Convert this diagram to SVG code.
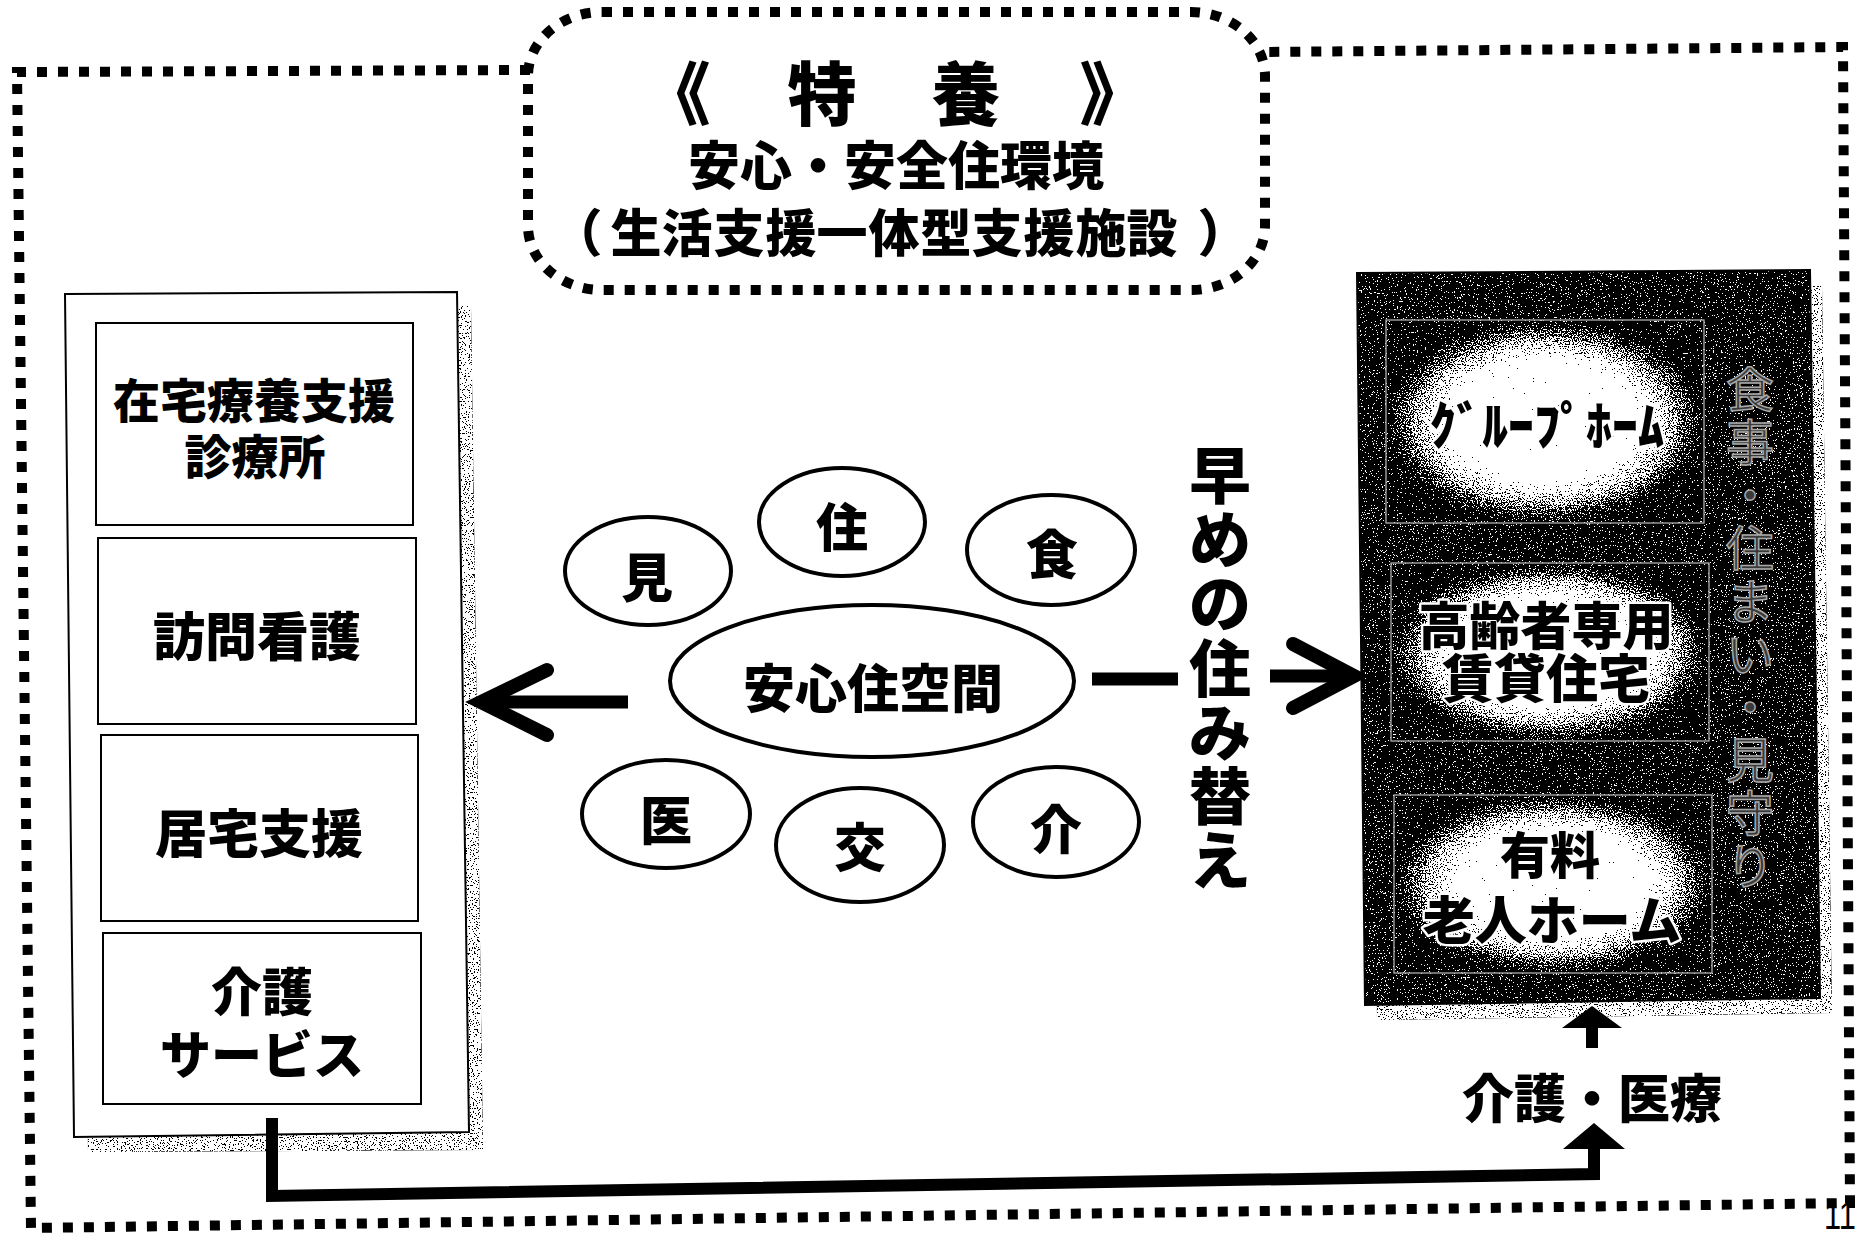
<svg xmlns="http://www.w3.org/2000/svg" width="1865" height="1240" viewBox="0 0 1865 1240">
<style>
.t{font-family:"Noto Sans CJK JP","Noto Sans CJK SC",sans-serif;font-weight:900;fill:#000;text-anchor:middle}
.dot{fill:none;stroke:#000;stroke-width:10;stroke-dasharray:10 11}
.box{fill:#fff;stroke:#000;stroke-width:2}
.ell{fill:#fff;stroke:#000;stroke-width:4}
.ln{fill:none;stroke:#000;stroke-width:13}
.halo{stroke:#fff;stroke-width:5;paint-order:stroke;stroke-linejoin:round}
.pan{fill:url(#glow)}
.pb{fill:none;stroke:#b0b0b0;stroke-width:1.3}
.shd{fill:#b4b4b4}
</style>
<defs>
<filter id="dither" x="0" y="0" width="1" height="1" color-interpolation-filters="sRGB">
<feTurbulence type="fractalNoise" baseFrequency="0.75" numOctaves="2" seed="7" result="t"/>
<feColorMatrix in="t" type="matrix" values="1 0 0 0 0 1 0 0 0 0 1 0 0 0 0 0 0 0 0 1" result="g"/>
<feComposite in="SourceGraphic" in2="g" operator="arithmetic" k1="0" k2="1" k3="1.6" k4="-0.8" result="s"/>
<feComponentTransfer in="s" result="d">
<feFuncR type="discrete" tableValues="0 1"/>
<feFuncG type="discrete" tableValues="0 1"/>
<feFuncB type="discrete" tableValues="0 1"/>
</feComponentTransfer>
<feComposite in="d" in2="SourceGraphic" operator="in"/>
</filter>
<radialGradient id="glow" cx="0.5" cy="0.5" r="0.5">
<stop offset="0" stop-color="#fff"/>
<stop offset="0.55" stop-color="#fff"/>
<stop offset="0.82" stop-color="#8a8a8a"/>
<stop offset="1" stop-color="#333"/>
</radialGradient>
</defs>
<rect width="1865" height="1240" fill="#fff"/>

<g id="frame">
<path class="dot" d="M 530 70 L 17 72 L 31 1228 L 1850 1203 L 1843 47 L 1262 52"/>
</g>

<g id="title">
<rect class="dot" x="528" y="12" width="737" height="278" rx="74" ry="64" fill="#fff"/>
<text class="t" x="676 749 822 894 966 1034 1114" y="120" font-size="69">《　特　養　》</text>
<text class="t" x="896" y="185" font-size="52">安心・安全住環境</text>
<text class="t" x="577 636 687 739 791 842 894 946 997 1049 1101 1152 1223" y="252" font-size="51">（生活支援一体型支援施設）</text>
</g>

<g id="left-services">
<polygon class="shd" filter="url(#dither)" points="79,308 471,306 483,1150 88,1152"/>
<polygon class="box" points="65,294 457,292 469,1132 74,1137"/>
<g id="clinic">
<rect class="box" x="96" y="323" width="317" height="202"/>
<text class="t" x="254" y="418" font-size="47">在宅療養支援</text>
<text class="t" x="255" y="474" font-size="47">診療所</text>
</g>
<g id="nursing">
<rect class="box" x="98" y="538" width="318" height="186"/>
<text class="t" x="257" y="656" font-size="52">訪問看護</text>
</g>
<g id="home-support">
<rect class="box" x="101" y="735" width="317" height="186"/>
<text class="t" x="259" y="853" font-size="52">居宅支援</text>
</g>
<g id="care-service">
<rect class="box" x="103" y="933" width="318" height="171"/>
<text class="t" x="262" y="1011" font-size="51">介護</text>
<text class="t" x="262" y="1074" font-size="51">サービス</text>
</g>
</g>

<g id="center">
<g id="e-mi"><ellipse class="ell" cx="648" cy="571" rx="83" ry="54"/><text class="t" x="647" y="597" font-size="52">見</text></g>
<g id="e-ju"><ellipse class="ell" cx="842" cy="522" rx="83" ry="54"/><text class="t" x="842" y="547" font-size="52">住</text></g>
<g id="e-shoku"><ellipse class="ell" cx="1051" cy="550" rx="84" ry="55"/><text class="t" x="1052" y="574" font-size="52">食</text></g>
<g id="e-main"><ellipse class="ell" cx="872" cy="681" rx="202" ry="76"/><text class="t" x="873" y="708" font-size="52">安心住空間</text></g>
<g id="e-i"><ellipse class="ell" cx="666" cy="814" rx="84" ry="54"/><text class="t" x="666" y="840" font-size="52">医</text></g>
<g id="e-ko"><ellipse class="ell" cx="860" cy="845" rx="84" ry="57"/><text class="t" x="860" y="867" font-size="52">交</text></g>
<g id="e-kai"><ellipse class="ell" cx="1056" cy="822" rx="83" ry="55"/><text class="t" x="1056" y="849" font-size="52">介</text></g>
</g>

<g id="move-label">
<text class="t" font-size="62" x="1220 1220 1220 1220 1220 1220 1220" y="499 563 627 692 756 820 884">早めの住み替え</text>
</g>

<g id="housing">
<polygon class="shd" filter="url(#dither)" points="1369,288 1822,285 1832,1013 1377,1020"/>
<g filter="url(#dither)">
<polygon points="1357,273 1810,270 1820,998 1365,1005" fill="#3a3a3a"/>
<rect class="pan" x="1386" y="320" width="318" height="203"/>
<rect class="pan" x="1391" y="563" width="318" height="178"/>
<rect class="pan" x="1394" y="795" width="318" height="178"/>
</g>
<polygon points="1357,273 1810,270 1820,998 1365,1005" fill="none" stroke="#000" stroke-width="2"/>
<rect class="pb" x="1386" y="320" width="318" height="203"/>
<rect class="pb" x="1391" y="563" width="318" height="178"/>
<rect class="pb" x="1394" y="795" width="318" height="178"/>
<g id="grouphome"><text class="t halo" x="1547" y="445" font-size="52">ｸﾞﾙｰﾌﾟﾎｰﾑ</text></g>
<g id="elderly-rental"><text class="t halo" x="1546" y="645" font-size="51">高齢者専用</text><text class="t halo" x="1546" y="698" font-size="52">賃貸住宅</text></g>
<g id="paid-home"><text class="t halo" x="1550" y="874" font-size="50">有料</text><text class="t halo" x="1552" y="940" font-size="52">老人ホーム</text></g>
<text x="1750 1750 1750 1750 1750 1750 1750 1750 1750 1750" y="407 460 513 566 619 672 725 778 831 884" font-size="48" style="font-family:'Noto Sans CJK JP',sans-serif;font-weight:400;text-anchor:middle;fill:#3a3a3a;stroke:#a8a8a8;stroke-width:1.5">食事・住まい・見守り</text>
</g>

<g id="care-medical">
<text class="t" x="1592" y="1118" font-size="52">介護・医療</text>
</g>

<g id="connectors">
<path class="ln" d="M 628 702 L 488 702"/>
<path d="M 547 670 L 481 702 L 547 735" fill="none" stroke="#000" stroke-width="14" stroke-linecap="round" stroke-linejoin="miter"/>
<path class="ln" stroke-width="14" d="M 1092 679 L 1178 679"/>
<path class="ln" d="M 1270 676 L 1345 676"/>
<path d="M 1293 644 L 1354 676 L 1293 708" fill="none" stroke="#000" stroke-width="14" stroke-linecap="round" stroke-linejoin="miter"/>
<path d="M 272 1118 L 272 1196 L 1594 1174 L 1594 1146" fill="none" stroke="#000" stroke-width="12" stroke-linejoin="miter"/>
<polygon points="1594,1123 1563,1149 1625,1149" fill="#000"/>
<path d="M 1592 1048 L 1592 1025" fill="none" stroke="#000" stroke-width="12"/>
<polygon points="1592,1006 1562,1028 1622,1028" fill="#000"/>
</g>

<text x="1824" y="1229" font-size="38" textLength="32" lengthAdjust="spacingAndGlyphs" style="font-family:'Liberation Sans',sans-serif;fill:#000">11</text>
</svg>
